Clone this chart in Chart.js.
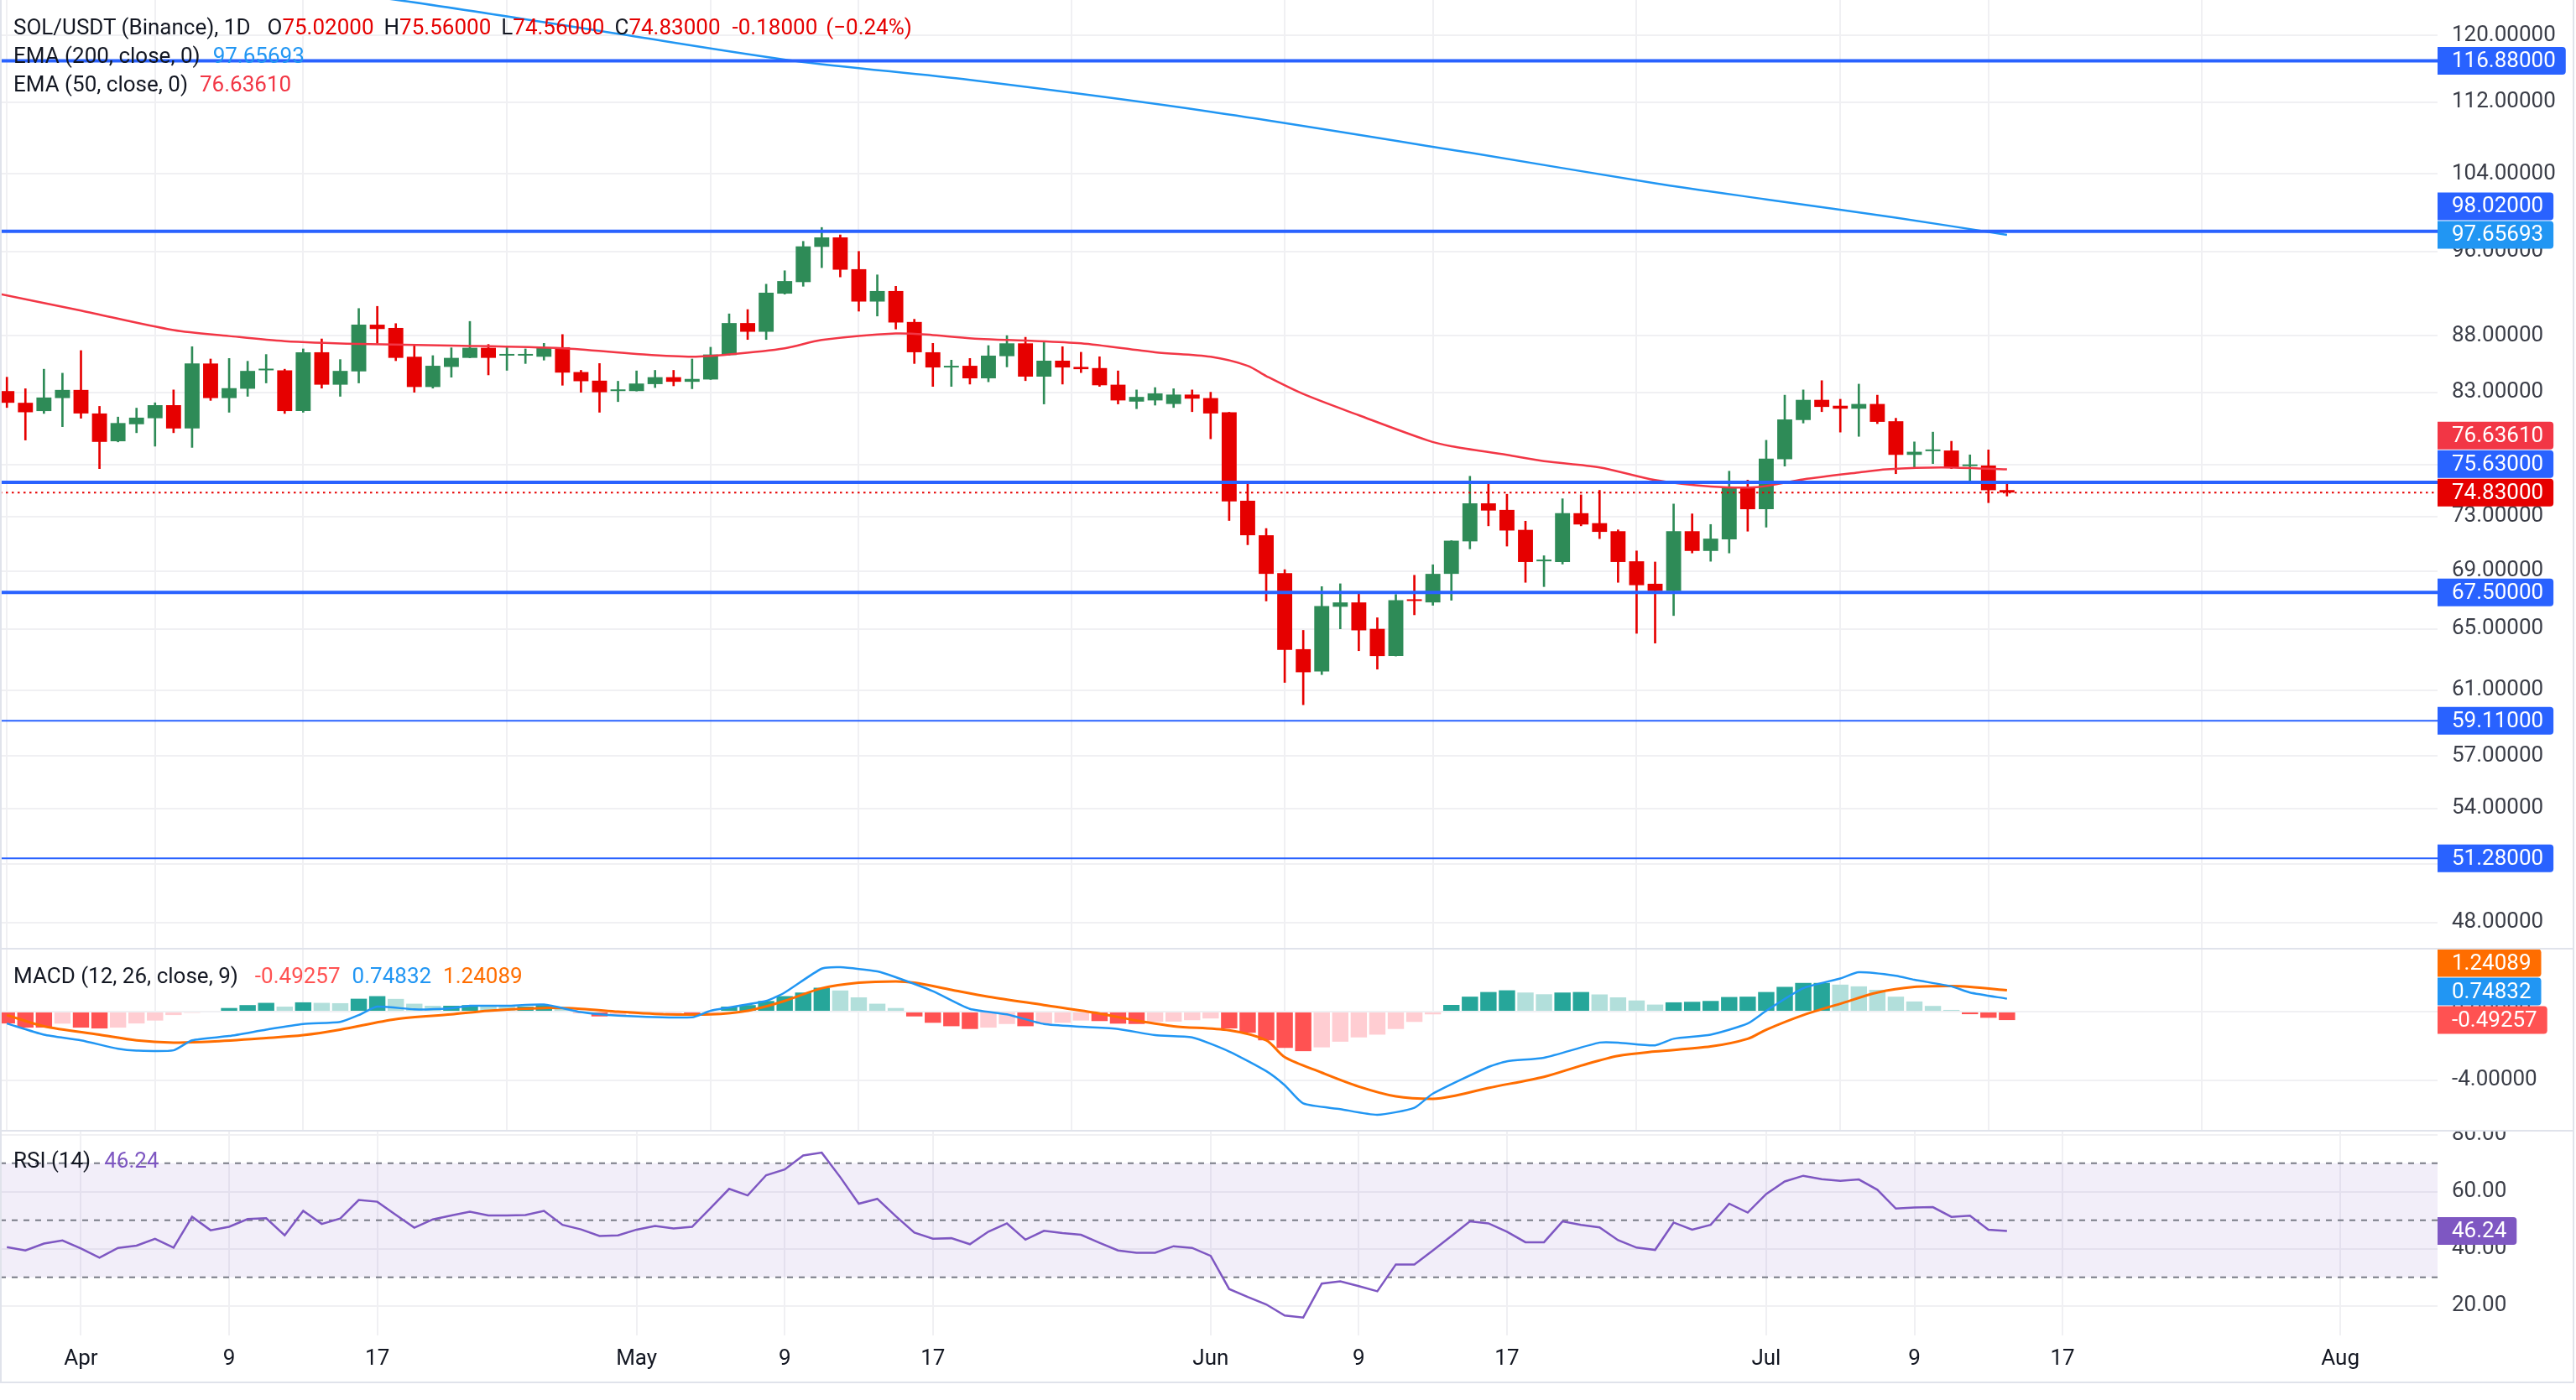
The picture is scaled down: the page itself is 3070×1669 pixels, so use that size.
<!DOCTYPE html>
<html>
<head>
<meta charset="utf-8">
<script src="https://cdn.jsdelivr.net/npm/chart.js@4.4.1/dist/chart.umd.min.js"></script>
<style>
  html, body { margin: 0; padding: 0; background: #fff; }
  body { width: 3070px; height: 1669px; position: relative; overflow: hidden; font-family: Roboto, sans-serif; }
  .pane { position: absolute; left: 0; width: 3070px; }
  #mainPane { top: 0; height: 1130px; }
  #macdPane { top: 1132px; height: 215px; }
  #rsiPane { top: 1349px; height: 298px; }
  .sep { position: absolute; left: 0; width: 3068px; height: 2px; background: #e0e3eb; z-index: 3; }
  #frame { position: absolute; left: 0; top: -2px; width: 3064px; height: 1647px; border: 2px solid #e0e3eb; pointer-events: none; z-index: 3; }
  .legend { position: absolute; left: 16px; font-size: 26px; line-height: 34px; color: #131722; white-space: pre; z-index: 4; }
  .legend span { margin-left: 12px; }
  .legend span.v { margin-left: 0; }
  .rd { color: #e50000; }
</style>
</head>
<body>
<div class="pane" id="mainPane"><canvas id="mainChart"></canvas></div>
<div class="sep" style="top:1130px"></div>
<div class="pane" id="macdPane"><canvas id="macdChart"></canvas></div>
<div class="sep" style="top:1347px"></div>
<div class="pane" id="rsiPane"><canvas id="rsiChart"></canvas></div>
<div id="frame"></div>

<div class="legend" style="top:15px">SOL/USDT (Binance), 1D<span style="margin-left:20px">O</span><span class="v rd">75.02000</span><span>H</span><span class="v rd">75.56000</span><span>L</span><span class="v rd">74.56000</span><span>C</span><span class="v rd">74.83000</span><span class="rd" style="margin-left:14px">-0.18000</span><span class="rd" style="margin-left:10px">(&minus;0.24%)</span></div>
<div class="legend" style="top:49px">EMA (200, close, 0)<span style="margin-left:15px;color:#2196f3">97.65693</span></div>
<div class="legend" style="top:83px">EMA (50, close, 0)<span style="margin-left:14px;color:#f23645">76.63610</span></div>
<div class="legend" style="top:1146px">MACD (12, 26, close, 9)<span style="margin-left:20px;color:#ff5252">-0.49257</span><span style="margin-left:14px;color:#2196f3">0.74832</span><span style="margin-left:14px;color:#ff6d00">1.24089</span></div>
<div class="legend" style="top:1366px">RSI (14)<span style="margin-left:16px;color:#7e57c2">46.24</span></div>

<script>
// day 0 = 1 Apr; first candle is 28 Mar
const FIRST_DAY = -4;

const opens = [
  83.1, 82.1, 81.4, 82.5, 83.2, 81.2, 78.9, 80.3, 80.8, 81.9,
  79.95, 85.5, 82.5, 83.3, 84.9, 84.9, 81.4, 86.5, 83.65, 84.8,
  89.0, 88.7, 86.1, 83.45, 85.2, 86.0, 86.9, 86.2, 86.2, 86.1,
  86.95, 84.75, 84.0, 83.1, 83.1, 83.7, 84.3, 83.9, 84.1, 86.25,
  89.15, 88.35, 91.9, 93.0, 96.45, 97.4, 94.25, 91.15, 92.15, 89.25,
  86.5, 85.15, 85.3, 84.2, 86.15, 87.3, 84.35, 85.75, 85.2, 85.1,
  83.65, 82.2, 82.3, 82.0, 82.8, 82.5, 81.3, 74.2, 71.6, 68.85,
  63.65, 62.2, 66.5, 66.8, 65.0, 63.2, 66.95, 66.8, 68.8, 71.15,
  74.0, 73.5, 72.0, 69.7, 69.65, 73.25, 72.5, 71.9, 69.7, 68.1,
  67.6, 71.9, 70.45, 71.3, 75.2, 73.55, 77.45, 80.65, 82.35, 81.85,
  81.6, 82.0, 80.55, 77.8, 78.1, 78.15, 76.9, 76.95, 75.02
];
const highs = [
  84.3, 83.3, 85.0, 84.65, 86.65, 81.8, 80.9, 81.65, 82.1, 83.2,
  87.0, 85.9, 85.95, 85.7, 86.3, 85.0, 86.8, 87.7, 85.85, 90.5,
  90.7, 89.1, 87.1, 86.2, 86.9, 89.3, 87.2, 86.95, 86.8, 87.3,
  88.1, 84.9, 85.5, 83.95, 84.85, 84.9, 84.9, 85.9, 86.95, 90.0,
  90.4, 92.8, 94.1, 97.0, 98.4, 97.65, 96.0, 93.7, 92.6, 89.5,
  87.3, 85.8, 85.95, 87.1, 88.0, 87.85, 87.45, 87.0, 86.5, 86.1,
  84.85, 83.2, 83.4, 83.3, 83.2, 83.0, 81.3, 75.7, 72.1, 69.1,
  64.9, 67.9, 68.1, 67.4, 65.75, 67.35, 68.7, 69.45, 71.2, 76.1,
  75.63, 74.7, 72.65, 70.1, 74.35, 74.65, 75.0, 72.0, 70.45, 69.65,
  73.95, 73.2, 72.4, 76.5, 75.8, 78.98, 82.75, 83.2, 84.0, 82.4,
  83.7, 82.75, 80.8, 78.85, 79.65, 78.9, 77.8, 78.2, 75.56
];
const lows = [
  81.7, 79.0, 81.2, 80.1, 80.8, 76.7, 78.85, 79.6, 78.5, 79.6,
  78.4, 82.3, 81.3, 82.65, 83.8, 81.2, 81.3, 83.35, 82.65, 83.8,
  87.3, 85.75, 83.0, 83.35, 84.3, 86.0, 84.5, 84.9, 85.5, 85.8,
  83.6, 83.0, 81.3, 82.2, 83.1, 83.4, 83.55, 83.3, 84.1, 86.25,
  87.65, 87.65, 91.85, 92.6, 94.4, 93.5, 90.25, 89.8, 88.6, 85.5,
  83.5, 83.5, 83.7, 83.9, 85.2, 84.0, 82.0, 83.7, 84.7, 83.5,
  82.0, 81.6, 81.9, 81.7, 81.35, 79.1, 72.7, 70.9, 66.9, 61.5,
  60.1, 62.0, 65.0, 63.55, 62.35, 63.2, 65.95, 66.6, 66.95, 70.6,
  72.3, 70.8, 68.2, 67.9, 69.5, 72.3, 71.35, 68.2, 64.7, 64.05,
  65.9, 70.3, 69.7, 70.3, 71.9, 72.2, 76.9, 80.4, 81.35, 79.65,
  79.3, 80.35, 76.3, 76.7, 77.1, 76.7, 75.63, 74.05, 74.56
];
const closes = [
  82.1, 81.3, 82.55, 83.2, 81.2, 78.85, 80.4, 80.85, 81.9, 79.95,
  85.5, 82.5, 83.35, 84.85, 85.0, 81.4, 86.5, 83.65, 84.85, 89.0,
  88.6, 86.0, 83.45, 85.3, 86.0, 86.9, 86.0, 86.25, 86.25, 86.95,
  84.7, 83.95, 83.0, 83.15, 83.75, 84.3, 83.9, 84.15, 86.3, 89.15,
  88.35, 91.99, 93.1, 96.5, 97.4, 94.2, 91.15, 92.15, 89.2, 86.5,
  85.15, 85.3, 84.2, 86.2, 87.3, 84.35, 85.75, 85.15, 85.0, 83.6,
  82.3, 82.6, 82.9, 82.8, 82.45, 81.2, 74.15, 71.6, 68.8, 63.6,
  62.15, 66.55, 66.8, 64.9, 63.2, 66.95, 66.9, 68.8, 71.2, 74.0,
  73.45, 71.95, 69.65, 69.8, 73.25, 72.4, 71.85, 69.65, 68.0, 67.6,
  71.9, 70.45, 71.35, 75.2, 73.55, 77.5, 80.7, 82.35, 81.75, 81.6,
  82.0, 80.5, 77.8, 78.05, 78.2, 76.75, 77.0, 75.01, 74.83
];

// moving averages at these days
const emaSlowDays = [-5, 17, 29, 38.5, 48, 61, 75, 85, 91, 98, 104];
const emaSlowVals = [131.5, 124.5, 120.2, 116.9, 114.6, 110.9, 106.3, 103.0, 101.3, 99.4, 97.66];
const emaFastDays = [-5, 0, 5, 8, 11, 15, 20, 26, 30, 33, 35, 38, 40, 44, 46, 48.5, 51, 54, 58, 61, 63, 64, 66, 69, 72.7, 74, 77, 79, 82, 85, 88, 90.5, 93, 96, 97.5, 100.5, 104];
const emaFastVals = [92.1, 90.3, 88.5, 87.96, 87.5, 87.25, 87.1, 86.85, 86.35, 86.1, 86.3, 86.85, 87.6, 88.2, 88.05, 87.7, 87.55, 87.3, 86.5, 86.1, 85.3, 84.4, 82.85, 81.05, 78.98, 78.5, 77.8, 77.3, 76.8, 75.8, 75.3, 75.25, 75.85, 76.4, 76.65, 76.8, 76.64];

// horizontal levels
const levels = [116.88, 98.02, 75.63, 67.5, 59.11, 51.28];
const levelWidths = [4, 4, 4, 4, 2, 2];
const lastPrice = 74.83;
const emaSlowLast = 97.65693;
const emaFastLast = 76.6361;

// MACD
const macdDays = [-4, -2, 0, 2, 3, 5, 6, 8, 10, 12, 14, 15, 16, 18, 20, 21, 23, 25, 27, 29, 33, 34, 37, 38, 40, 41, 43, 44, 46, 48, 50, 52, 54, 56, 58, 60, 62, 64, 65, 66, 68, 70, 72, 73, 76, 77, 79, 82, 83, 85, 86, 88, 90, 91, 93, 95, 96, 98, 99, 101, 102, 104];
const macdVals = [-0.69, -1.34, -1.67, -2.16, -2.27, -2.25, -1.67, -1.42, -1.05, -0.72, -0.6, -0.2, 0.29, 0.13, 0.2, 0.34, 0.34, 0.41, -0.03, -0.23, -0.33, 0.05, 0.62, 1.11, 2.5, 2.58, 2.34, 2.0, 1.19, 0.16, -0.16, -0.72, -0.88, -1.01, -1.37, -1.5, -2.32, -3.46, -4.28, -5.34, -5.67, -6.0, -5.59, -4.77, -3.22, -2.89, -2.68, -1.8, -1.8, -1.96, -1.58, -1.34, -0.69, 0.05, 1.36, 1.93, 2.29, 2.09, 1.85, 1.47, 1.11, 0.75];
const signalDays = [-4, -2, 1, 3, 5, 7, 10, 12, 14, 17, 20, 22, 25, 27, 29, 31, 34, 36, 38, 40, 42, 44, 45, 47, 49, 52, 55, 57, 59, 62, 64, 65, 67, 69, 71, 73, 74, 76, 79, 81, 83, 85, 88, 90, 91, 93, 95, 97, 99, 101, 102, 104];
const signalVals = [-0.2, -0.85, -1.34, -1.67, -1.8, -1.75, -1.54, -1.37, -1.05, -0.44, -0.16, 0.05, 0.21, 0.16, 0.0, -0.13, -0.16, 0.05, 0.62, 1.36, 1.68, 1.76, 1.68, 1.27, 0.87, 0.38, -0.11, -0.52, -0.85, -1.09, -1.67, -2.65, -3.55, -4.36, -4.93, -5.07, -4.93, -4.44, -3.79, -3.14, -2.57, -2.32, -2.03, -1.58, -1.05, -0.2, 0.46, 1.11, 1.44, 1.49, 1.44, 1.24];
const histVals = [
  -0.69, -0.93, -0.93, -0.7, -0.93, -0.98, -0.93, -0.69, -0.52, -0.2,
  -0.07, 0.05, 0.21, 0.38, 0.51, 0.29, 0.54, 0.51, 0.49, 0.75,
  0.9, 0.74, 0.46, 0.34, 0.34, 0.38, 0.34, 0.29, 0.29, 0.38,
  0.26, -0.07, -0.28, -0.23, -0.16, -0.13, -0.11, -0.13, -0.11, 0.29,
  0.38, 0.62, 0.9, 1.11, 1.39, 1.23, 0.83, 0.46, 0.21, -0.28,
  -0.65, -0.85, -1.01, -0.93, -0.72, -0.85, -0.72, -0.65, -0.52, -0.55,
  -0.7, -0.72, -0.6, -0.58, -0.5, -0.4, -0.98, -1.23, -1.67, -2.11,
  -2.3, -2.08, -1.75, -1.5, -1.34, -1.01, -0.6, -0.16, 0.39, 0.87,
  1.14, 1.24, 1.11, 1.01, 1.11, 1.14, 1.0, 0.83, 0.65, 0.41,
  0.54, 0.57, 0.62, 0.85, 0.87, 1.14, 1.44, 1.67, 1.67, 1.57,
  1.47, 1.27, 0.87, 0.59, 0.33, 0.1, -0.15, -0.36, -0.49257
];
const macdLast = 0.74832, signalLast = 1.24089, histLast = -0.49257;

// RSI
const rsiVals = [
  40.6, 39.4, 41.8, 42.9, 40.1, 36.9, 40.3, 41.1, 43.5, 40.4,
  51.2, 46.5, 47.7, 50.4, 50.7, 44.7, 53.3, 48.7, 50.6, 57.1,
  56.5, 51.9, 47.4, 50.3, 51.7, 53.0, 51.7, 51.7, 51.8, 53.3,
  48.4, 46.8, 44.5, 44.7, 46.7, 48.0, 47.1, 47.7, 54.3, 61.0,
  58.7, 65.8, 67.8, 72.7, 73.7, 65.1, 55.8, 57.5, 51.4, 45.7,
  43.5, 43.7, 41.6, 46.0, 48.9, 43.2, 46.3, 45.5, 44.9, 42.1,
  39.4, 38.6, 38.6, 40.9, 40.3, 37.5, 25.9, 23.1, 20.5, 16.6,
  15.9, 27.8, 28.6, 26.9, 25.1, 34.5, 34.5, 39.4, 44.5, 49.6,
  48.9, 46.0, 42.3, 42.3, 49.6, 48.4, 47.5, 43.0, 40.4, 39.6,
  49.2, 46.7, 48.4, 55.8, 52.7, 59.2, 63.6, 65.6, 64.4, 63.8,
  64.3, 60.7, 54.1, 54.5, 54.6, 51.2, 51.6, 46.7, 46.24
];
const rsiLevels = [70, 50, 30];

// axes
const priceTicks = [120, 112, 104, 96, 88, 83, 77, 73, 69, 65, 61, 57, 54, 51, 48];
const macdTicks = [-4, 0];
const rsiTicks = [20, 40, 60, 80];
const timeTickDays = [0, 8, 16, 30, 38, 46, 61, 69, 77, 91, 99, 107, 122];
const timeTickLabels = ['Apr', '9', '17', 'May', '9', '17', 'Jun', '9', '17', 'Jul', '9', '17', 'Aug'];

// ---- style / layout ----
const X_MIN = -4.372, X_MAX = 127.25;
const GREEN = '#2e8b57', RED = '#e60000';
const GRID = '#f0f0f3';
const AXIS_TXT = '#3b3e48';
const AXIS_W = 165;
const TAG_H = 33, TAG_STEP = 34;

Chart.defaults.font.family = 'Roboto, sans-serif';
Chart.defaults.font.size = 26;
Chart.defaults.animation = false;

const dayOf = i => i + FIRST_DAY;
const pairs = (xs, ys) => xs.map((x, i) => ({ x: x, y: ys[i] }));
const flat = v => [{ x: X_MIN, y: v }, { x: X_MAX, y: v }];

function valueTags(tags) {
  return {
    id: 'valueTags',
    afterDraw(chart) {
      const ctx = chart.ctx;
      const ys = chart.scales.y;
      const right = chart.chartArea.right;
      const items = tags.map(t => Object.assign({ py: ys.getPixelForValue(t.value) }, t))
        .sort((a, b) => b.py - a.py);
      let prev = Infinity;
      ctx.save();
      ctx.font = '26px Roboto, sans-serif';
      ctx.textBaseline = 'middle';
      items.forEach(t => {
        const cy = Math.min(t.py, prev - TAG_STEP);
        prev = cy;
        const w = ctx.measureText(t.text).width + 29;
        ctx.fillStyle = t.color;
        ctx.beginPath();
        ctx.roundRect(right, cy - TAG_H / 2, w, TAG_H, [0, 4, 4, 0]);
        ctx.fill();
        ctx.fillStyle = '#ffffff';
        ctx.fillText(t.text, right + 17, cy + 1);
      });
      ctx.restore();
    }
  };
}

function xAxis(showLabels) {
  return {
    type: 'linear', min: X_MIN, max: X_MAX, offset: false,
    grid: { color: GRID, lineWidth: 2, drawTicks: false },
    border: { display: false },
    ticks: {
      display: showLabels, padding: 13, color: '#131722', autoSkip: false, maxRotation: 0,
      callback: v => timeTickLabels[timeTickDays.indexOf(v)]
    },
    afterBuildTicks: s => { s.ticks = timeTickDays.map(v => ({ value: v })); },
    afterFit: s => { s.height = showLabels ? 55 : 0; s.paddingLeft = 0; s.paddingRight = 0; }
  };
}

function yAxis(extra, ticks, fmt) {
  return Object.assign({
    position: 'right',
    grid: { color: GRID, lineWidth: 2, drawTicks: false },
    border: { display: false },
    ticks: { padding: 17, color: AXIS_TXT, autoSkip: false, callback: fmt },
    afterBuildTicks: s => { s.ticks = ticks.map(v => ({ value: v })); },
    afterFit: s => { s.width = AXIS_W; s.paddingTop = 0; s.paddingBottom = 0; }
  }, extra);
}

const baseOpts = {
  responsive: true, maintainAspectRatio: false, devicePixelRatio: 1,
  layout: { padding: 0 },
  plugins: { legend: { display: false }, tooltip: { enabled: false } },
  elements: { point: { radius: 0 } }
};

// ---- price pane ----
const levelSets = levels.map((v, k) => ({
  type: 'line', data: flat(v), borderColor: '#2962ff', borderWidth: levelWidths[k], order: 0
}));

new Chart(document.getElementById('mainChart'), {
  type: 'bar',
  data: {
    datasets: [
      ...levelSets,
      { type: 'line', data: flat(lastPrice), borderColor: RED, borderWidth: 2, borderDash: [2.5, 4.5], order: 0 },
      { type: 'line', data: pairs(emaSlowDays, emaSlowVals), borderColor: '#2196f3', borderWidth: 2.5, tension: 0.3, order: 1 },
      { type: 'line', data: pairs(emaFastDays, emaFastVals), borderColor: '#f23645', borderWidth: 2.5, tension: 0.3, order: 1 },
      {
        data: closes.map((c, i) => ({ x: dayOf(i), y: [lows[i], highs[i]] })),
        backgroundColor: ctx => closes[ctx.dataIndex] >= opens[ctx.dataIndex] ? GREEN : RED,
        barThickness: 2, grouped: false, order: 6
      },
      {
        data: closes.map((c, i) => ({ x: dayOf(i), y: [opens[i], c] })),
        backgroundColor: ctx => closes[ctx.dataIndex] >= opens[ctx.dataIndex] ? GREEN : RED,
        barPercentage: 0.81, categoryPercentage: 1, minBarLength: 2, grouped: false, order: 5
      }
    ]
  },
  options: Object.assign({}, baseOpts, {
    scales: {
      x: xAxis(false),
      y: yAxis({ type: 'logarithmic', min: 46.75, max: 124.47 }, priceTicks, v => Number(v).toFixed(5))
    }
  }),
  plugins: [valueTags([
    ...levels.map(v => ({ value: v, text: v.toFixed(5), color: '#2962ff' })),
    { value: emaSlowLast, text: emaSlowLast.toFixed(5), color: '#2196f3' },
    { value: emaFastLast, text: emaFastLast.toFixed(5), color: '#f23645' },
    { value: lastPrice, text: lastPrice.toFixed(5), color: RED }
  ])]
});

// ---- MACD pane ----
new Chart(document.getElementById('macdChart'), {
  type: 'bar',
  data: {
    datasets: [
      { type: 'line', data: pairs(macdDays, macdVals), borderColor: '#2196f3', borderWidth: 2.5, tension: 0.2, order: 0 },
      { type: 'line', data: pairs(signalDays, signalVals), borderColor: '#ff6d00', borderWidth: 3, tension: 0.3, order: 0 },
      {
        data: histVals.map((v, i) => ({ x: dayOf(i), y: v })),
        backgroundColor: ctx => {
          const i = ctx.dataIndex, v = histVals[i], p = i > 0 ? histVals[i - 1] : v;
          if (v >= 0) return v >= p ? '#26a69a' : '#b2dfdb';
          return v <= p ? '#ff5252' : '#ffcdd2';
        },
        barPercentage: 0.88, categoryPercentage: 1, order: 2
      }
    ]
  },
  options: Object.assign({}, baseOpts, {
    scales: {
      x: xAxis(false),
      y: yAxis({ type: 'linear', min: -6.88, max: 3.61 }, macdTicks, v => Number(v).toFixed(5))
    }
  }),
  plugins: [valueTags([
    { value: signalLast, text: signalLast.toFixed(5), color: '#ff6d00' },
    { value: macdLast, text: macdLast.toFixed(5), color: '#2196f3' },
    { value: histLast, text: histLast.toFixed(5), color: '#ff5252' }
  ])]
});

// ---- RSI pane ----
new Chart(document.getElementById('rsiChart'), {
  type: 'line',
  data: {
    datasets: [
      { data: rsiVals.map((v, i) => ({ x: dayOf(i), y: v })), borderColor: '#7e57c2', borderWidth: 2.5, order: 0 },
      ...rsiLevels.map(v => ({ data: flat(v), borderColor: '#787b86', borderWidth: 2, borderDash: [7, 7], order: 1 })),
      {
        data: flat(rsiLevels[2]), borderWidth: 0, borderColor: 'transparent',
        fill: { value: rsiLevels[0] }, backgroundColor: 'rgba(126, 87, 194, 0.1)', order: 3
      }
    ]
  },
  options: Object.assign({}, baseOpts, {
    scales: {
      x: xAxis(true),
      y: yAxis({ type: 'linear', min: 9.62, max: 81.09 }, rsiTicks, v => Number(v).toFixed(2))
    }
  }),
  plugins: [valueTags([{ value: 46.24, text: '46.24', color: '#7e57c2' }])]
});
</script>
</body>
</html>
